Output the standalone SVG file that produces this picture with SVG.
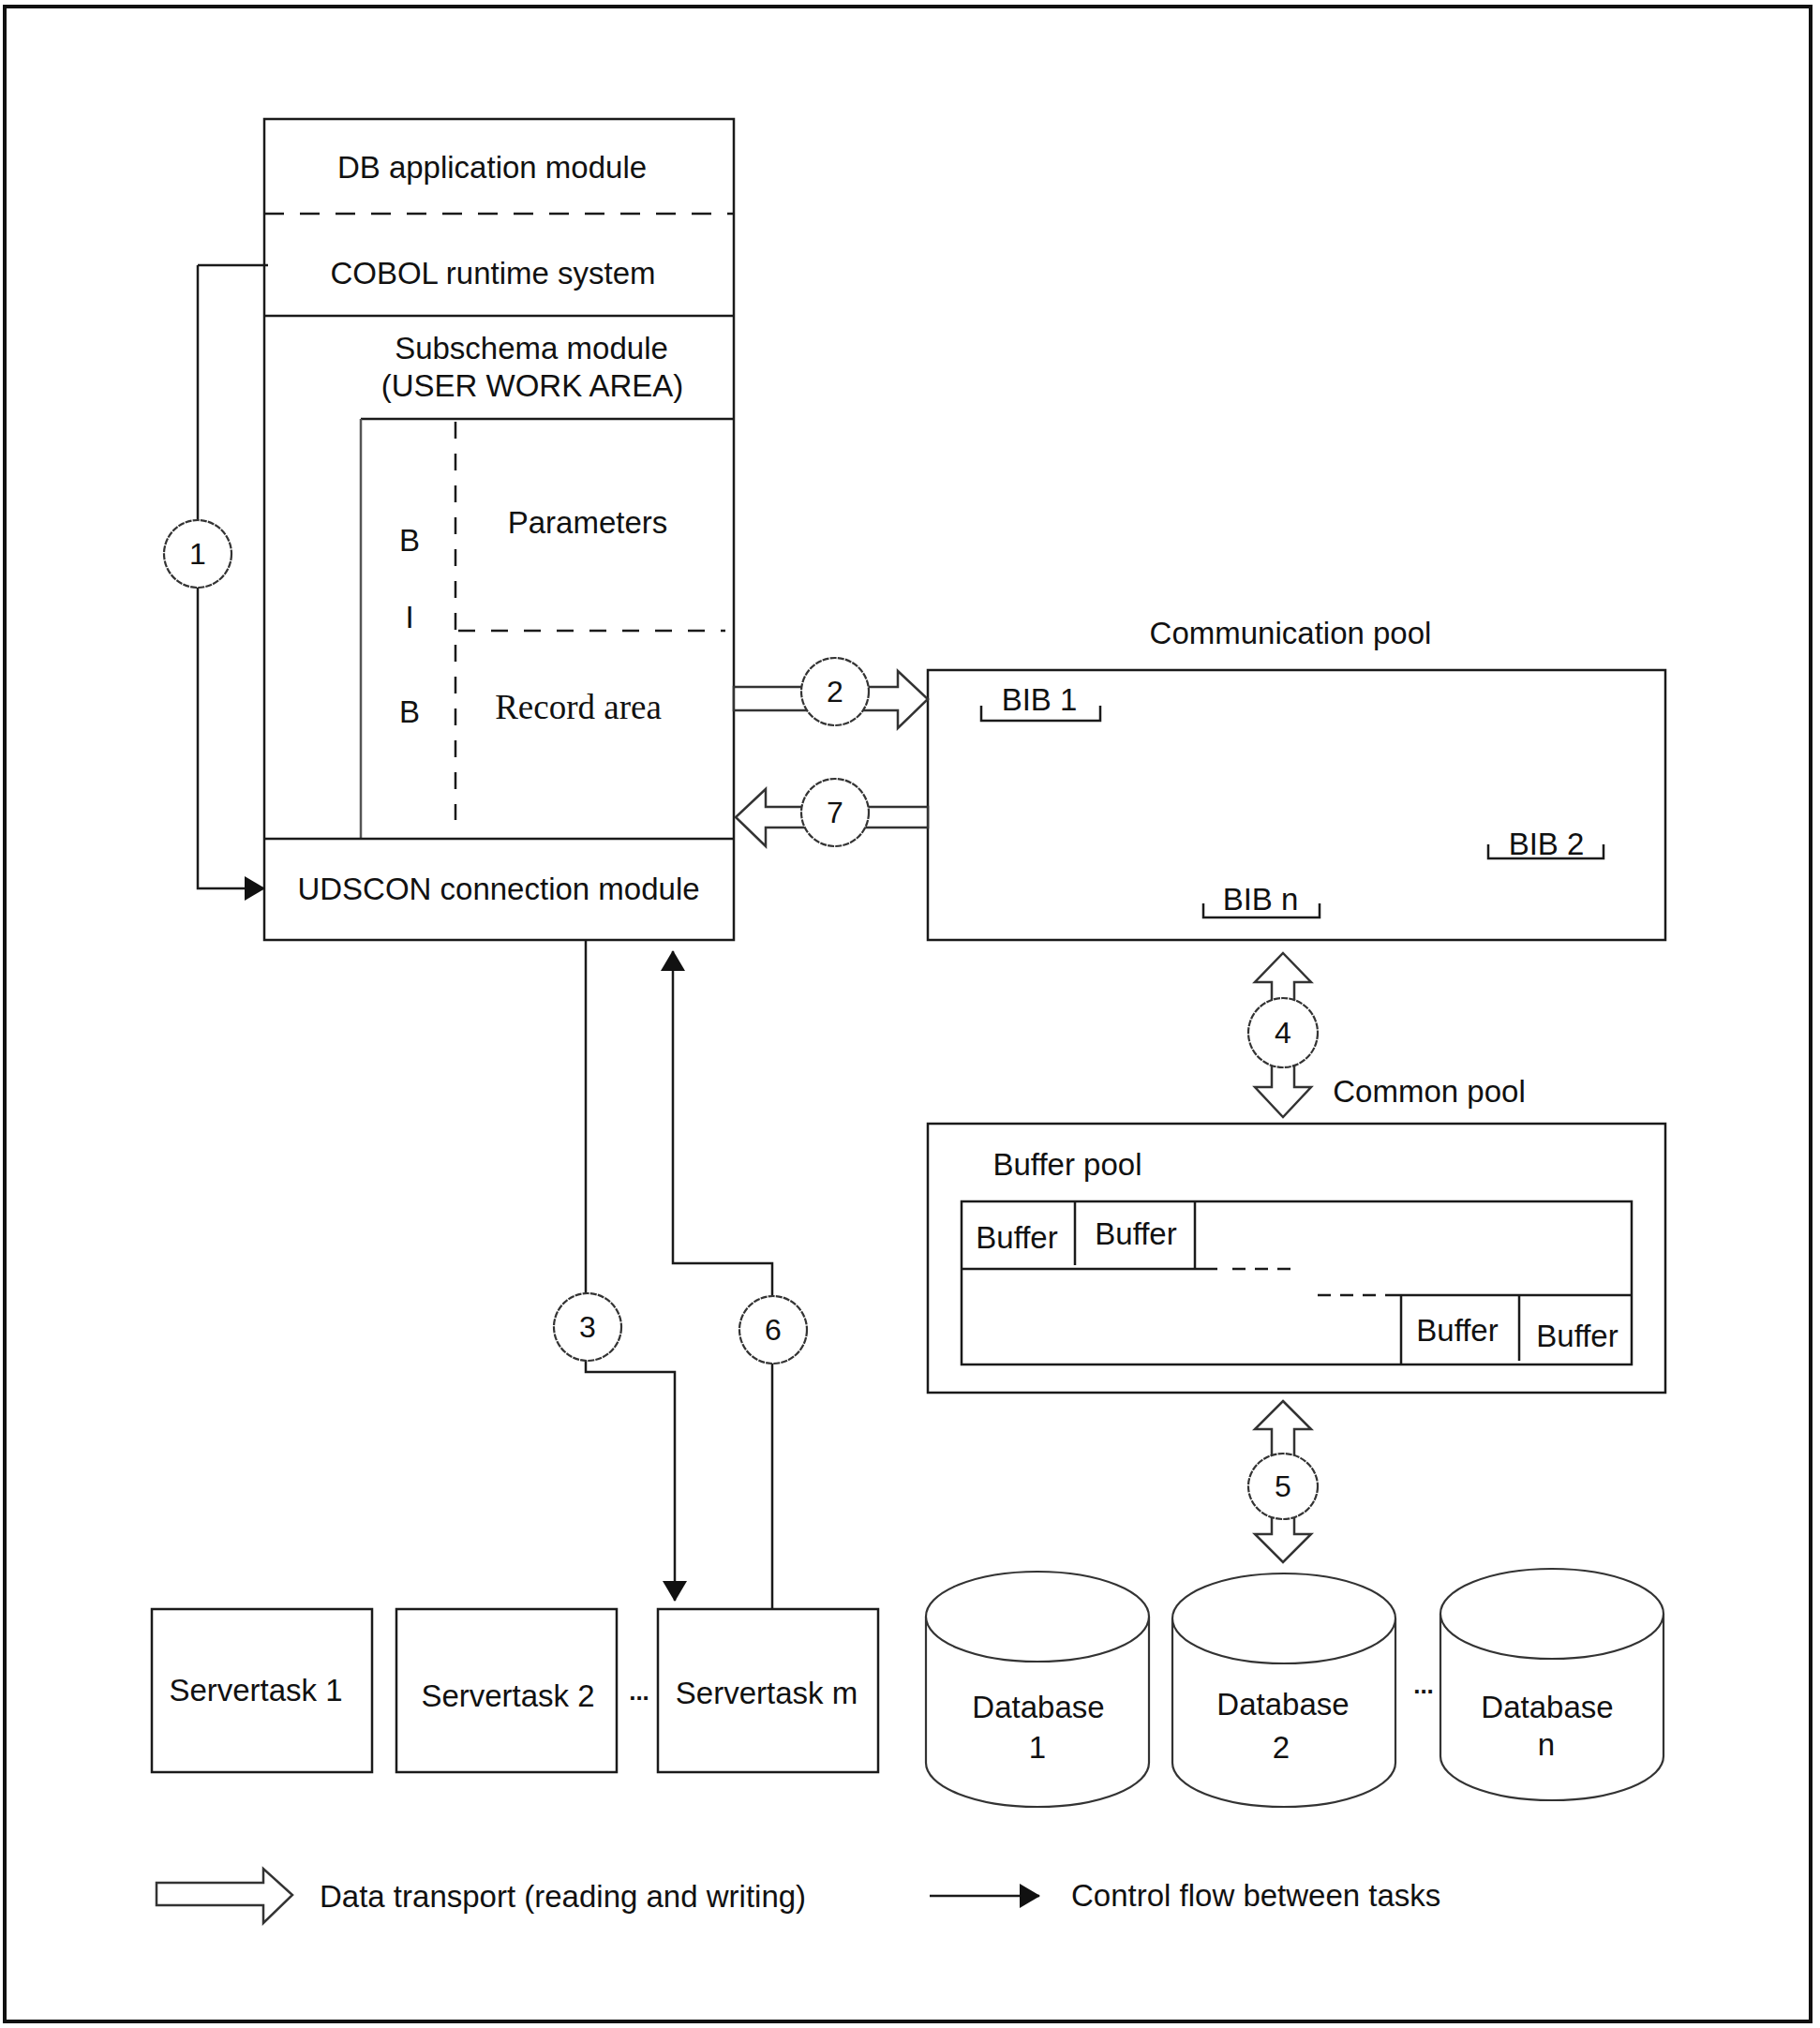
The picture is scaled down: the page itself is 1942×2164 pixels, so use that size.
<svg xmlns="http://www.w3.org/2000/svg" width="1942" height="2164" viewBox="0 0 1942 2164">
<defs>
<style>
.t{font-family:"Liberation Sans",Arial,sans-serif;font-size:33px;fill:#111}
.c{text-anchor:middle}
.s{font-family:"Liberation Serif","Times New Roman",serif;font-size:37px;fill:#111}
.n{font-family:"Liberation Sans",Arial,sans-serif;font-size:32px;fill:#111;text-anchor:middle}
.box{fill:none;stroke:#1a1a1a;stroke-width:2.5}
.ln{fill:none;stroke:#1a1a1a;stroke-width:2.5}
.gl{fill:none;stroke:#555;stroke-width:2.5}
.dash{fill:none;stroke:#1a1a1a;stroke-width:2.5}
.hol{fill:#fff;stroke:#333;stroke-width:2.5;stroke-linejoin:miter}
.circ{fill:#fff;stroke:#333;stroke-width:2.2;stroke-dasharray:7 1.2}
.cyl{fill:#fff;stroke:#333;stroke-width:2.2}
.dots{font-family:"Liberation Sans",Arial,sans-serif;font-size:26px;font-weight:bold;fill:#111;text-anchor:middle}
</style>
<marker id="ah" markerUnits="userSpaceOnUse" markerWidth="22" markerHeight="26" refX="21" refY="13" orient="auto">
<path d="M0,0 L22,13 L0,26 Z" fill="#111"/>
</marker>
</defs>
<rect x="5" y="7" width="1927" height="2150" fill="#fff" stroke="#111" stroke-width="4"/>

<g id="app-stack">
<rect x="282" y="127" width="501" height="876" class="box"/>
<line x1="282" y1="228" x2="783" y2="228" class="dash" stroke-dasharray="21 17"/>
<line x1="282" y1="337" x2="783" y2="337" class="ln"/>
<line x1="385" y1="447" x2="783" y2="447" class="ln"/>
<line x1="385" y1="447" x2="385" y2="895" class="gl"/>
<line x1="486" y1="450" x2="486" y2="875" class="dash" stroke-dasharray="18 16"/>
<line x1="489" y1="673" x2="774" y2="673" class="dash" stroke-dasharray="18 17"/>
<line x1="282" y1="895" x2="783" y2="895" class="ln"/>
<text x="525" y="190" class="t c">DB application module</text>
<text x="526" y="303" class="t c">COBOL runtime system</text>
<text x="567" y="383" class="t c">Subschema module</text>
<text x="568" y="423" class="t c">(USER WORK AREA)</text>
<text x="437" y="588" class="t c">B</text>
<text x="437" y="670" class="t c">I</text>
<text x="437" y="771" class="t c">B</text>
<text x="627" y="569" class="t c">Parameters</text>
<text x="617" y="767" class="s c">Record area</text>
<text x="532" y="960" class="t c">UDSCON connection module</text>
</g>

<g id="comm-pool">
<text x="1377" y="687" class="t c">Communication pool</text>
<rect x="990" y="715" width="787" height="288" class="box"/>
<polyline points="1047,753 1047,769 1174,769 1174,753" class="ln"/>
<text x="1109" y="758" class="t c">BIB 1</text>
<polyline points="1588,901 1588,916 1711,916 1711,901" class="ln"/>
<text x="1650" y="912" class="t c">BIB 2</text>
<polyline points="1284,964 1284,979 1408,979 1408,964" class="ln"/>
<text x="1345" y="971" class="t c">BIB n</text>
</g>

<g id="common-pool">
<text x="1525" y="1176" class="t c">Common pool</text>
<rect x="990" y="1199" width="787" height="287" class="box"/>
<text x="1139" y="1254" class="t c">Buffer pool</text>
<rect x="1026" y="1282" width="715" height="174" class="box"/>
<line x1="1026" y1="1354" x2="1299" y2="1354" class="ln"/>
<line x1="1315" y1="1354" x2="1378" y2="1354" class="dash" stroke-dasharray="14 10"/>
<line x1="1147" y1="1282" x2="1147" y2="1350" class="ln"/>
<line x1="1275" y1="1282" x2="1275" y2="1354" class="ln"/>
<line x1="1406" y1="1382" x2="1470" y2="1382" class="dash" stroke-dasharray="14 10"/>
<line x1="1478" y1="1382" x2="1741" y2="1382" class="ln"/>
<line x1="1495" y1="1382" x2="1495" y2="1456" class="ln"/>
<line x1="1621" y1="1382" x2="1621" y2="1452" class="ln"/>
<text x="1085" y="1332" class="t c">Buffer</text>
<text x="1212" y="1328" class="t c">Buffer</text>
<text x="1555" y="1431" class="t c">Buffer</text>
<text x="1683" y="1437" class="t c">Buffer</text>
</g>

<g id="servertasks">
<rect x="162" y="1717" width="235" height="174" class="box"/>
<text x="273" y="1815" class="t c">Servertask 1</text>
<rect x="423" y="1717" width="235" height="174" class="box"/>
<text x="542" y="1821" class="t c">Servertask 2</text>
<text x="682" y="1814" class="dots">...</text>
<rect x="702" y="1717" width="235" height="174" class="box"/>
<text x="818" y="1818" class="t c">Servertask m</text>
</g>

<g id="databases">
<g id="db1">
<path d="M988,1725 L988,1881 A119,47 0 0 0 1226,1881 L1226,1725 A119,48 0 0 0 988,1725 Z" class="cyl"/>
<path d="M988,1725 A119,48 0 0 0 1226,1725" class="cyl" fill="none"/>
<text x="1108" y="1833" class="t c">Database</text>
<text x="1107" y="1876" class="t c">1</text>
</g>
<g id="db2">
<path d="M1251,1727 L1251,1881 A119,47 0 0 0 1489,1881 L1489,1727 A119,48 0 0 0 1251,1727 Z" class="cyl"/>
<path d="M1251,1727 A119,48 0 0 0 1489,1727" class="cyl" fill="none"/>
<text x="1369" y="1830" class="t c">Database</text>
<text x="1367" y="1876" class="t c">2</text>
</g>
<text x="1519" y="1807" class="dots">...</text>
<g id="dbn">
<path d="M1537,1722 L1537,1874 A119,47 0 0 0 1775,1874 L1775,1722 A119,48 0 0 0 1537,1722 Z" class="cyl"/>
<path d="M1537,1722 A119,48 0 0 0 1775,1722" class="cyl" fill="none"/>
<text x="1651" y="1833" class="t c">Database</text>
<text x="1650" y="1873" class="t c">n</text>
</g>
</g>

<g id="connectors">
<polyline points="211,283 286,283" class="ln"/>
<polyline points="211,283 211,948 282,948" class="ln" marker-end="url(#ah)"/>
<polyline points="625,1003 625,1464 720,1464 720,1708" class="ln" marker-end="url(#ah)"/>
<polyline points="824,1717 824,1348 718,1348 718,1015" class="ln" marker-end="url(#ah)"/>
<polygon points="783,733 958,733 958,716 990,746 958,777 958,758 783,758" class="hol"/>
<polygon points="990,861 817,861 817,842 785,872 817,903 817,883 990,883" class="hol"/>
<polygon points="1369,1017 1399,1048 1381,1048 1381,1160 1399,1160 1369,1192 1339,1160 1357,1160 1357,1048 1339,1048" class="hol"/>
<polygon points="1369,1495 1399,1525 1381,1525 1381,1637 1399,1637 1369,1667 1339,1637 1357,1637 1357,1525 1339,1525" class="hol"/>
</g>

<g id="labels">
<circle cx="211" cy="591" r="36" class="circ"/>
<text x="211" y="602" class="n">1</text>
<circle cx="891" cy="738" r="36" class="circ"/>
<text x="891" y="749" class="n">2</text>
<circle cx="627" cy="1416" r="36" class="circ"/>
<text x="627" y="1427" class="n">3</text>
<circle cx="1369" cy="1102" r="37" class="circ"/>
<text x="1369" y="1113" class="n">4</text>
<ellipse cx="1369" cy="1586" rx="37" ry="35" class="circ"/>
<text x="1369" y="1597" class="n">5</text>
<circle cx="825" cy="1419" r="36" class="circ"/>
<text x="825" y="1430" class="n">6</text>
<circle cx="891" cy="867" r="36" class="circ"/>
<text x="891" y="878" class="n">7</text>
</g>

<g id="legend">
<polygon points="167,2009 281,2009 281,1994 312,2022 281,2052 281,2033 167,2033" class="hol"/>
<text x="341" y="2035" class="t">Data transport (reading and writing)</text>
<line x1="992" y1="2023" x2="1109" y2="2023" class="ln" marker-end="url(#ah)"/>
<text x="1143" y="2034" class="t">Control flow between tasks</text>
</g>
</svg>
